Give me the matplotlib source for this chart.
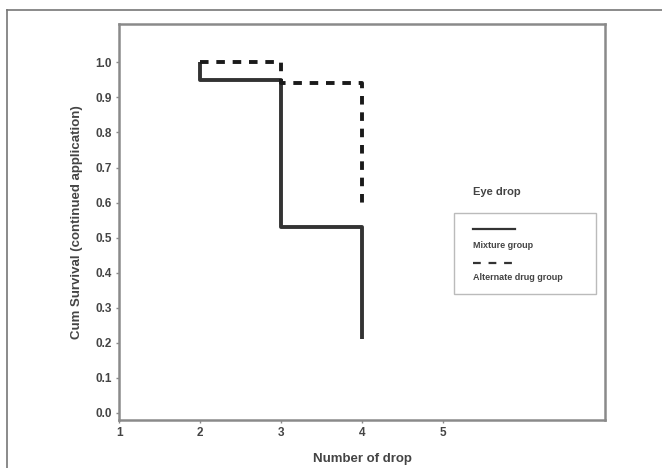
import numpy as np
import matplotlib
matplotlib.use('Agg')
import matplotlib.pyplot as plt
from matplotlib.patches import Rectangle
from matplotlib.lines import Line2D

# step data
mix_x = [2, 2, 3, 3, 4, 4]
mix_y = [1.0, 0.95, 0.95, 0.53, 0.53, 0.21]
alt_x = [2, 3, 3, 4, 4]
alt_y = [1.0, 1.0, 0.94, 0.94, 0.60]
x_ticks = [1, 2, 3, 4, 5]
y_ticks = np.round(np.arange(0, 1.01, 0.1), 1)

plt.rcParams['font.family'] = ['Liberation Sans', 'DejaVu Sans']
plt.rcParams['font.weight'] = 'bold'
txt = '#444444'
spine = '#8a8a8a'
curve = '#333333'

fig = plt.figure(figsize=(6.62, 4.68), dpi=100)
ax = fig.add_axes([0.180, 0.103, 0.734, 0.846])

ax.plot(mix_x, mix_y, color=curve, lw=2.8, solid_capstyle='butt')
ax.plot(alt_x, alt_y, color='#1a1a1a', lw=2.8, dashes=(2.2, 2.0))

ax.set_xlim(1, 7)
ax.set_ylim(-0.02, 1.11)
ax.set_xticks(x_ticks)
ax.set_xticklabels([str(t) for t in x_ticks])
ax.set_yticks(y_ticks)
ax.set_yticklabels(['%.1f' % t for t in y_ticks])
ax.tick_params(length=2.5, width=1, color=spine, labelsize=8.5, labelcolor=txt, pad=3)
for s in ax.spines.values():
    s.set_color(spine)
    s.set_linewidth(1.8)

ax.set_xlabel('Number of drop', fontsize=9.5, color=txt, fontweight='bold', labelpad=10)
ax.set_ylabel('Cum Survival (continued application)', fontsize=9.5, color=txt,
              fontweight='bold', labelpad=9)

# legend drawn by hand: sample line above each label
ax.text(0.778, 0.576, 'Eye drop', transform=ax.transAxes, ha='center', va='center',
        fontsize=8, color=txt, fontweight='bold')
ax.add_patch(Rectangle((0.689, 0.318), 0.292, 0.205, transform=ax.transAxes,
                       fill=False, ec='#bbbbbb', lw=1.0))
ax.add_line(Line2D([0.728, 0.815], [0.482, 0.482], transform=ax.transAxes,
                   color=curve, lw=1.6))
ax.text(0.728, 0.439, 'Mixture group', transform=ax.transAxes, va='center',
        fontsize=6.5, color=txt, fontweight='bold')
ax.add_line(Line2D([0.728, 0.815], [0.396, 0.396], transform=ax.transAxes,
                   color=curve, lw=1.6, dashes=(3.5, 3.5)))
ax.text(0.728, 0.359, 'Alternate drug group', transform=ax.transAxes, va='center',
        fontsize=6.5, color=txt, fontweight='bold')

# outer frame of the original figure (top and left edges)
fig.add_artist(Line2D([7 / 662, 1.0], [1 - 10 / 468, 1 - 10 / 468],
                      transform=fig.transFigure, color='#777777', lw=1.2))
fig.add_artist(Line2D([7 / 662, 7 / 662], [0.0, 1 - 10 / 468],
                      transform=fig.transFigure, color='#777777', lw=1.2))

fig.savefig('out.png', dpi=100)
